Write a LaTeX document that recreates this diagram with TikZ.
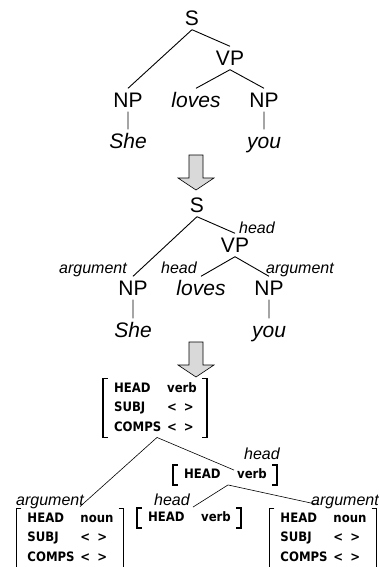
\documentclass[tikz,border=0pt]{standalone}
\usepackage{fontspec}
\setmainfont{Liberation Sans}
\newfontfamily\avmfont{DejaVu Sans Condensed}
\usetikzlibrary{positioning}

% feature structure: two columns, the first as wide as COMPS
\newcommand\fs[1]{\begin{tabular}{@{\hspace{11pt}}p{47pt}@{\hspace{6pt}}l@{\hspace{10pt}}}#1\end{tabular}}
\newcommand\nil{<\hspace{7pt}>}
\newcommand\avmbox[1]{%
  \draw[bracket] ([xshift=5pt]#1.north west) -| (#1.south west) -- ++(5pt,0)
    ([xshift=-5pt]#1.north east) -| (#1.south east) -- ++(-5pt,0);}

\tikzset{
  cat/.style={font=\fontsize{21}{24}\selectfont, inner sep=4pt, text height=15pt, text depth=0pt},
  word/.style={cat, font=\fontsize{21}{24}\selectfont\itshape},
  role/.style={font=\fontsize{16}{19}\selectfont\itshape, anchor=base, inner sep=0pt},
  avm/.style={font=\avmfont\bfseries\fontsize{13}{19.5}\selectfont, inner sep=0pt},
  bracket/.style={line width=1.4pt},
  branch/.style={line width=0.9pt},
  thin branch/.style={line width=0.6pt},
  fatarrow/.style={draw, line width=0.6pt, fill=black!15, line join=miter}
}

\begin{document}
\begin{tikzpicture}[x=1pt,y=-1pt,on grid]
  \useasboundingbox (0,0) rectangle (379,567);

  % plain tree
  \node[cat] (s1) at (192,18) {S};
  \node[cat] (vp1) [below right=40pt and 38pt of s1] {VP};
  \node[cat] (np1) [below left=82pt and 64pt of s1] {NP};
  \node[word] (loves1) [below left=42pt and 34pt of vp1] {loves};
  \node[cat] (np2) [below right=42pt and 34pt of vp1] {NP};
  \node[word] (she1) [below=41pt of np1] {She};
  \node[word] (you1) [below=41pt of np2] {you};

  \draw[branch] (s1.south) -- (np1.north) (s1.south) -- (vp1.north)
    (vp1.south) -- (loves1.north) (vp1.south) -- (np2.north)
    (np1) -- (she1) (np2) -- (you1);

  \foreach \y in {155,342}
    \draw[fatarrow] (189,\y) -- (203,\y) -- (203,\y+23) -- (214,\y+23)
      -- (196,\y+35) -- (178,\y+23) -- (189,\y+23) -- cycle;

  % tree with head and argument marked
  \node[cat] (s2) at (197,205) {S};
  \node[cat] (vp2) [below right=40pt and 38pt of s2] {VP};
  \node[cat] (np3) [below left=83pt and 64pt of s2] {NP};
  \node[word] (loves2) [below left=43pt and 34pt of vp2] {loves};
  \node[cat] (np4) [below right=43pt and 34pt of vp2] {NP};
  \node[word] (she2) [below=42pt of np3] {She};
  \node[word] (you2) [below=42pt of np4] {you};

  \node[role] (h1) at (257,233) {head};
  \node[role] (a1) at (93,273) {argument};
  \node[role] (h2) at (179,273) {head};
  \node[role] (a2) at (300,273) {argument};

  \draw[branch] (s2.south) -- (np3.north) (s2.south) -- (vp2.north)
    (vp2.south) -- (loves2.north) (vp2.south) -- (np4.north)
    (np3) -- (she2) (np4) -- (you2);

  % feature structures
  \node[avm] (fsS) at (155,408) {\fs{HEAD & verb\\ SUBJ & \nil\\ COMPS & \nil}};
  \node[avm] (fsM) at (225,475) {\fs{HEAD & verb}};
  \node[avm] (fsL) at (70,538) {\fs{HEAD & noun\\ SUBJ & \nil\\ COMPS & \nil}};
  \node[avm] (fsH) at (189,518) {\fs{HEAD & verb}};
  \node[avm] (fsR) at (323,538) {\fs{HEAD & noun\\ SUBJ & \nil\\ COMPS & \nil}};
  \foreach \n in {fsS,fsM,fsL,fsH,fsR} {\avmbox{\n}}

  \node[role] (h3) at (262,459) {head};
  \node[role] (a3) at (50,505) {argument};
  \node[role] (h4) at (172,505) {head};
  \node[role] (a4) at (345,505) {argument};

  \draw[thin branch] ([xshift=2pt]fsS.south) -- ([xshift=10pt,yshift=2pt]fsL.north)
    ([xshift=2pt]fsS.south) -- ([xshift=9pt,yshift=-5pt]fsM.north)
    ([xshift=3pt]fsM.south) -- ([xshift=4pt,yshift=1pt]fsH.north)
    ([xshift=3pt]fsM.south) -- ([xshift=-5pt,yshift=4pt]fsR.north);
\end{tikzpicture}
\end{document}
